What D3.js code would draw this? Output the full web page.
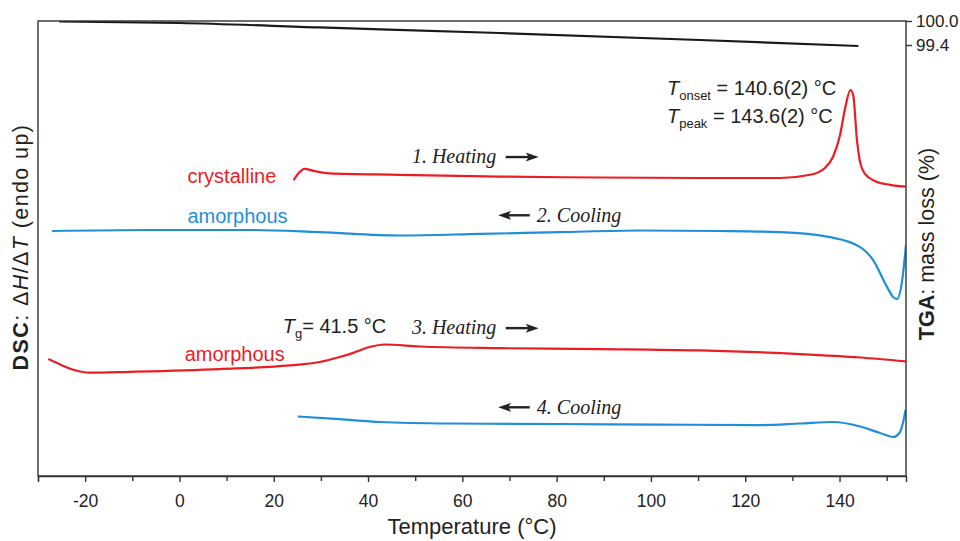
<!DOCTYPE html>
<html>
<head>
<meta charset="utf-8">
<script src="https://cdn.jsdelivr.net/npm/d3@7"></script>
<style>
  body { margin: 0; background: #fff; }
  text { font-family: "Liberation Sans", Arial, sans-serif; }
  .note { font-family: "Liberation Serif", "Times New Roman", serif; font-style: italic; }
</style>
</head>
<body>
<div id="chart"></div>
<script>
// DSC curves (temperature in °C, heat flow in arbitrary units with offsets)
var heat1T = [24.2, 25.5, 26.5, 28.7, 31.8, 46.7, 67.9, 89.2, 110.4, 127.4, 133.8, 136.9, 138.6, 140.1, 141.2, 142.3, 142.9, 143.7, 144.4, 145.4, 147.6, 150.7, 154.0];
var heat1V = [65.0, 66.8, 67.5, 67.0, 66.5, 66.2, 65.8, 65.6, 65.5, 65.5, 66.2, 67.7, 70.1, 74.9, 80.9, 84.8, 83.7, 73.8, 68.8, 66.4, 64.8, 64.0, 63.6];

var cool2T = [-27.0, -6.4, 14.9, 29.7, 46.7, 63.7, 80.7, 97.7, 114.6, 127.4, 138.0, 144.4, 147.1, 150.1, 151.4, 152.2, 153.3, 154.1];
var cool2V = [53.85, 54.07, 54.07, 53.6, 52.86, 53.2, 53.6, 53.96, 53.85, 53.6, 52.5, 50.3, 47.5, 41.5, 39.3, 38.9, 43.1, 50.8];

var heat3T = [-27.8, -25.5, -22.3, -19.1, -10.6, 8.5, 23.4, 29.7, 34.0, 36.7, 40.3, 43.5, 51.0, 67.9, 89.2, 110.4, 131.6, 144.4, 154.0];
var heat3V = [25.7, 24.6, 23.3, 22.7, 22.9, 23.5, 24.3, 25.05, 26.15, 27.0, 28.35, 28.9, 28.46, 28.1, 27.9, 27.6, 26.8, 26.04, 25.2];

var cool4T = [25.1, 34.0, 42.5, 57.3, 80.7, 101.9, 123.1, 131.6, 138.6, 144.4, 148.6, 151.4, 152.7, 153.5, 154.0];
var cool4V = [13.08, 12.5, 11.87, 11.54, 11.43, 11.3, 11.2, 11.54, 11.87, 10.88, 9.45, 8.57, 9.45, 11.87, 14.5];

// TGA curve (mass %)
var tgaT = [-25.5, 0, 29.7, 67.9, 110.4, 144.0];
var tgaV = [99.99, 99.95, 99.84, 99.7, 99.525, 99.375];

var xTicks = [-20, 0, 20, 40, 60, 80, 100, 120, 140];
var xMinorTicks = [-30, -10, 10, 30, 50, 70, 90, 110, 130, 150];
var tgaTicks = [100.0, 99.4];

var red = '#ec1c24';
var blue = '#1f8fd9';

var svgWidth = 960;
var svgHeight = 541;
var margin = { top: 21, right: 54, bottom: 65, left: 38 };
var width = svgWidth - margin.left - margin.right;
var height = svgHeight - margin.top - margin.bottom;

var svg = d3.select('#chart').append('svg')
  .attr('width', svgWidth)
  .attr('height', svgHeight);

var chartGroup = svg.append('g')
  .attr('transform', `translate(${margin.left}, ${margin.top})`);

var x = d3.scaleLinear().domain([-30, 154.1]).range([0, width]);
var y = d3.scaleLinear().domain([0, 100]).range([height, 0]);
var yTga = d3.scaleLinear().domain([100 - height * 0.025, 100]).range([height, 0]);

function zip(ts, vs) {
  return ts.map((t, i) => ({ t: t, v: vs[i] }));
}

var dscLine = d3.line()
  .x(d => x(d.t))
  .y(d => y(d.v))
  .curve(d3.curveMonotoneX);

var tgaLine = d3.line()
  .x(d => x(d.t))
  .y(d => yTga(d.v))
  .curve(d3.curveMonotoneX);

// clip so curves stop at the frame
chartGroup.append('clipPath').attr('id', 'clip')
  .append('rect').attr('width', width).attr('height', height);

var curves = chartGroup.append('g').attr('clip-path', 'url(#clip)');

curves.append('path')
  .datum(zip(tgaT, tgaV))
  .attr('d', tgaLine)
  .attr('fill', 'none')
  .attr('stroke', '#1a1a1a')
  .attr('stroke-width', 2.2);

[[heat1T, heat1V, red], [cool2T, cool2V, blue], [heat3T, heat3V, red], [cool4T, cool4V, blue]].forEach(function(c) {
  curves.append('path')
    .datum(zip(c[0], c[1]))
    .attr('d', dscLine)
    .attr('fill', 'none')
    .attr('stroke', c[2])
    .attr('stroke-width', 2.2);
});

// frame
chartGroup.append('rect')
  .attr('width', width)
  .attr('height', height)
  .attr('fill', 'none')
  .attr('stroke', '#333')
  .attr('stroke-width', 1.4);

// bottom axis
var xAxis = chartGroup.append('g')
  .attr('transform', `translate(0, ${height})`)
  .call(d3.axisBottom(x).tickValues(xTicks).tickSize(6).tickPadding(13).tickFormat(d3.format('d')));
chartGroup.append('g')
  .attr('transform', `translate(0, ${height})`)
  .call(d3.axisBottom(x).tickValues(xMinorTicks).tickSize(5).tickFormat(''))
  .call(g => g.select('.domain').remove());
xAxis.select('.domain').attr('stroke', '#333').attr('stroke-width', 1.4);
chartGroup.selectAll('.tick line').attr('stroke', '#333').attr('stroke-width', 1.4);
xAxis.selectAll('text')
  .attr('font-family', '"Liberation Sans", Arial, sans-serif')
  .attr('font-size', 17.5)
  .attr('fill', '#222')
  .text(d => d < 0 ? '-' + Math.abs(d) : d);

// right TGA axis
var rAxis = chartGroup.append('g')
  .attr('transform', `translate(${width}, 0)`)
  .call(d3.axisRight(yTga).tickValues(tgaTicks).tickSize(6).tickPadding(4).tickFormat(d3.format('.1f')));
rAxis.select('.domain').remove();
rAxis.selectAll('.tick line').attr('stroke', '#333').attr('stroke-width', 1.4);
rAxis.selectAll('text')
  .attr('font-family', '"Liberation Sans", Arial, sans-serif')
  .attr('font-size', 17)
  .attr('fill', '#222');

// axis titles
svg.append('text')
  .attr('x', 472)
  .attr('y', 534)
  .attr('text-anchor', 'middle')
  .attr('font-size', 22)
  .attr('fill', '#222')
  .text('Temperature (°C)');

var leftTitle = svg.append('text')
  .attr('transform', 'translate(28, 247) rotate(-90)')
  .attr('text-anchor', 'middle')
  .attr('font-size', 21.5)
  .attr('letter-spacing', 1.4)
  .attr('fill', '#222');
leftTitle.append('tspan').attr('font-weight', 'bold').text('DSC');
leftTitle.append('tspan').text(': Δ');
leftTitle.append('tspan').attr('font-style', 'italic').text('H');
leftTitle.append('tspan').text('/Δ');
leftTitle.append('tspan').attr('font-style', 'italic').text('T');
leftTitle.append('tspan').text(' (endo up)');

var rightTitle = svg.append('text')
  .attr('transform', 'translate(934, 244) rotate(-90)')
  .attr('text-anchor', 'middle')
  .attr('font-size', 21.5)
  .attr('fill', '#222');
rightTitle.append('tspan').attr('font-weight', 'bold').text('TGA');
rightTitle.append('tspan').text(': mass loss (%)');

// curve labels
function label(txt, t, v, color) {
  chartGroup.append('text')
    .attr('x', x(t))
    .attr('y', y(v))
    .attr('font-size', 20)
    .attr('fill', color)
    .text(txt);
}
label('crystalline', 1.7, 64.4, red);
label('amorphous', 1.7, 55.6, blue);
label('amorphous', 1.1, 25.3, red);

// step notes with arrows
function arrow(t0, t1, v) {
  var x0 = x(t0), x1 = x(t1), yy = y(v);
  var dir = x1 > x0 ? 1 : -1;
  chartGroup.append('line')
    .attr('x1', x0).attr('y1', yy)
    .attr('x2', x1 - dir * 8).attr('y2', yy)
    .attr('stroke', '#222').attr('stroke-width', 2.4);
  chartGroup.append('path')
    .attr('d', `M${x1},${yy} L${x1 - dir * 13},${yy - 4.5} L${x1 - dir * 10},${yy} L${x1 - dir * 13},${yy + 4.5} Z`)
    .attr('fill', '#222');
}
function note(txt, t, v) {
  chartGroup.append('text')
    .attr('class', 'note')
    .attr('x', x(t))
    .attr('y', y(v))
    .attr('font-size', 20)
    .attr('fill', '#222')
    .text(txt);
}
note('1. Heating', 49.3, 68.7);
arrow(69.2, 76.2, 70.1);
note('2. Cooling', 75.8, 55.8);
arrow(74.3, 67.6, 57.3);
note('3. Heating', 49.3, 31.1);
arrow(69.2, 76.2, 32.5);
note('4. Cooling', 75.8, 13.6);
arrow(74.3, 67.6, 15.1);

// temperature annotations
function tempNote(sub, rest, t, v) {
  var tx = chartGroup.append('text')
    .attr('x', x(t))
    .attr('y', y(v))
    .attr('font-size', 20)
    .attr('fill', '#222');
  tx.append('tspan').attr('font-style', 'italic').text('T');
  tx.append('tspan').attr('font-size', 13).attr('dy', 5).text(sub);
  tx.append('tspan').attr('dy', -5).text(rest);
}
tempNote('onset', ' = 140.6(2) °C', 103.4, 83.8);
tempNote('peak', ' = 143.6(2) °C', 103.4, 77.5);
tempNote('g', '= 41.5 °C', 21.9, 31.5);
</script>
</body>
</html>
